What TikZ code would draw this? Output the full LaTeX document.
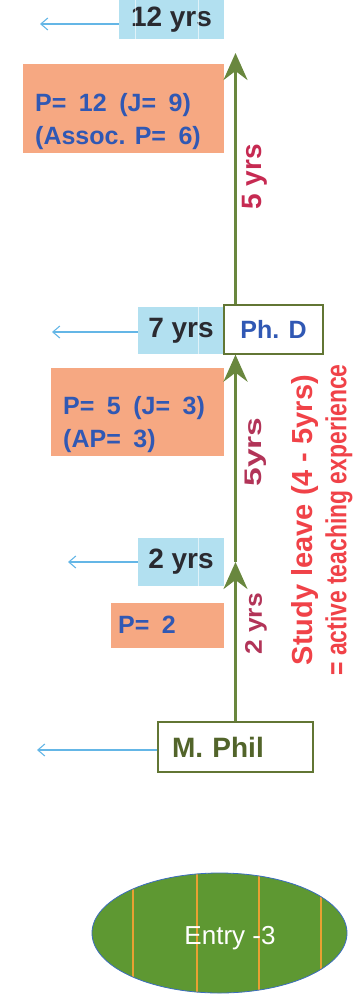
\documentclass[tikz,border=0pt]{standalone}
\usepackage{fontspec}
\setmainfont{Liberation Sans}
\usetikzlibrary{arrows.meta,shapes.geometric}
\definecolor{cyanbox}{RGB}{178,224,240}
\definecolor{orangebox}{RGB}{246,168,130}
\definecolor{textblue}{RGB}{48,88,180}
\definecolor{darktxt}{RGB}{42,42,48}
\definecolor{olive}{RGB}{98,118,52}
\definecolor{shaftgreen}{RGB}{105,135,62}
\definecolor{crimson}{RGB}{198,42,82}
\definecolor{maroon}{RGB}{178,52,88}
\definecolor{redtxt}{RGB}{240,66,72}
\definecolor{lightblue}{RGB}{100,182,230}
\definecolor{ellgreen}{RGB}{94,152,50}
\definecolor{ellborder}{RGB}{60,110,190}
\definecolor{stripe}{RGB}{232,160,50}
\definecolor{philgreen}{RGB}{82,100,42}
\newcommand{\fs}[1]{\fontsize{#1}{#1}\selectfont}
\begin{document}
\begin{tikzpicture}[x=1pt,y=-1pt,
  cyanb/.style={fill=cyanbox, draw=none, inner sep=0pt, text=darktxt, font=\bfseries\fs{28}},
  orb/.style={fill=orangebox, draw=none, inner sep=0pt},
  ortext/.style={anchor=west, inner sep=0pt, text=textblue, align=left, font=\bfseries\fontsize{25}{33}\selectfont},
  degbox/.style={fill=white, draw=olive, line width=1.3pt, inner sep=0pt},
  shaft/.style={draw=shaftgreen, line width=3.2pt},
  tipup/.style={-{Stealth[length=27pt,width=24pt,inset=9pt]}},
  bluearr/.style={draw=lightblue, line width=1.1pt, -{Straight Barb[length=7pt,width=12pt]}},
  sepline/.style={draw=white, line width=1pt, opacity=0.6},
  vlab/.style={rotate=90, inner sep=0pt, font=\bfseries},
  stripeline/.style={draw=stripe, line width=1.4pt}
]
\useasboundingbox (0,0) rectangle (360,995);

% cyan year boxes
\node[cyanb, minimum width=105pt, minimum height=39pt] (y12) at (171.5,19.5) {12 yrs};
\node[cyanb, minimum width=86pt, minimum height=47pt] (y7) at (181,330.5) {7 yrs};
\node[cyanb, minimum width=86pt, minimum height=48pt] (y2) at (181,562) {2 yrs};
\draw[sepline] (135,0) -- (135,39);
\draw[sepline] (198,0) -- (198,39);
\draw[sepline] (198,307) -- (198,354);
\draw[sepline] (198,538) -- (198,586);

% orange boxes
\node[orb, minimum width=201pt, minimum height=89pt] (o1) at (123.5,108.5) {};
\node[ortext] (o1t) at (35,122) {P=\enspace 12\enspace(J=\enspace 9)\\(Assoc. P=\enspace 6)};
\node[orb, minimum width=173pt, minimum height=88pt] (o2) at (137.5,412) {};
\node[ortext] (o2t) at (63,425) {P=\enspace 5\enspace(J=\enspace 3)\\(AP=\enspace 3)};
\node[orb, minimum width=113pt, minimum height=45pt] (o3) at (167.5,625.5) {};
\node[ortext] (o3t) at (118,625) {P=\enspace 2};

% shaft coordinates
\coordinate (t2) at (235.5,562);
\coordinate (top) at (235.5,53);

% degree boxes
\node[degbox, minimum width=155pt, minimum height=50pt, text width=127pt, inner xsep=14pt, align=left,
  text=philgreen, font=\bfseries\fs{28}] (mphil) at (235.5,747) {M. Phil};
\node[degbox, minimum width=99pt, minimum height=49pt, text=textblue, font=\bfseries\fs{25}] (phd) at (273.5,329.5) {Ph. D};

% green shaft arrows
\draw[shaft, tipup] (mphil.north) -- (t2);
\draw[shaft, tipup] (t2) -- (mphil.north |- phd.south);
\draw[shaft, tipup] (mphil.north |- phd.north) -- (top);

% blue arrows to the left
\coordinate (a12) at (40,24);
\coordinate (a7) at (52,332);
\coordinate (a2) at (68,562);
\coordinate (am) at (37,750);
\draw[bluearr] (y12.west |- a12) -- (a12);
\draw[bluearr] (y7.west |- a7) -- (a7);
\draw[bluearr] (y2.west |- a2) -- (a2);
\draw[bluearr] (mphil.west |- am) -- (am);

% vertical labels
\node[vlab, text=crimson, font=\bfseries\fs{28}] (l5a) at (255,177) {5 yrs};
\node[vlab, text=maroon, font=\bfseries\fs{24}] (l5b) at (256,452) {\scalebox{1.4}[1]{5yrs}};
\node[vlab, text=maroon, font=\bfseries\fs{24}] (l2) at (256,624) {\scalebox{1.1}[1]{2 yrs}};
\node[vlab, text=redtxt, align=center, font=\bfseries\fontsize{29}{34}\selectfont] (study) at (322,520)
  {Study leave (4 - 5yrs)\\\scalebox{0.79}[1]{\fs{29}= active teaching experience}};

% entry ellipse
\node[ellipse, fill=ellgreen, draw=ellborder, line width=0.8pt, minimum width=255pt, minimum height=120pt, inner sep=0pt,
  path picture={
    \foreach \dx in {41,105,167,229}{
      \draw[stripeline] ([xshift=\dx pt]path picture bounding box.north west) -- ([xshift=\dx pt]path picture bounding box.south west);
    }
  }] (entry) at (219.5,933) {};
\node[text=white, inner sep=0pt, font=\fs{26}] (entrylab) at (230,938) {Entry -3};
\end{tikzpicture}
\end{document}
